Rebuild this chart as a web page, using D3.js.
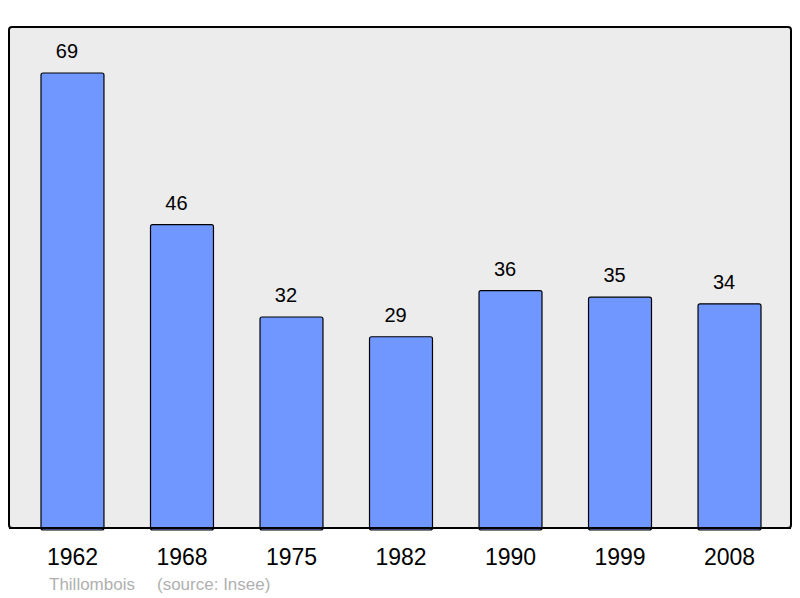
<!DOCTYPE html>
<html><head><meta charset="utf-8">
<script src="https://cdn.jsdelivr.net/npm/d3@7"></script>
<style>body{margin:0;background:#fff}svg{display:block}</style>
</head><body>
<script>
const years = ["1962","1968","1975","1982","1990","1999","2008"];
const population = [69,46,32,29,36,35,34];
const commune = "Thillombois";
const source = "(source: Insee)";

const W=800,H=598;
const svg=d3.select("body").append("svg").attr("width",W).attr("height",H);
const frame={x:9,y:27,w:782,h:501};
svg.append("rect").attr("x",frame.x).attr("y",frame.y).attr("width",frame.w).attr("height",frame.h)
  .attr("rx",3).attr("fill","#ececec").attr("stroke","#000").attr("stroke-width",2);

const x=d3.scaleBand().domain(years).range([41,761]).paddingInner(0.425).paddingOuter(0);
const y=d3.scaleLinear().domain([0,69]).range([528,73]);

svg.selectAll("rect.bar").data(population).join("rect").attr("class","bar")
  .attr("x",(d,i)=>x(years[i])).attr("y",d=>y(d)).attr("width",x.bandwidth())
  .attr("height",d=>y(0)-y(d)+2).attr("rx",2)
  .attr("fill","#7097ff").attr("stroke","#000").attr("stroke-width",1.2);
svg.append("line").attr("x1",frame.x).attr("x2",frame.x+frame.w).attr("y1",528).attr("y2",528).attr("stroke","#000").attr("stroke-width",2);

svg.selectAll("text.val").data(population).join("text").attr("class","val")
  .attr("x",(d,i)=>x(years[i])+x.bandwidth()/2-5.5).attr("y",d=>y(d)-15)
  .attr("text-anchor","middle").attr("font-family","Liberation Sans, Arial, sans-serif")
  .attr("font-size",20).attr("fill","#000").text(d=>d);

svg.selectAll("text.yr").data(years).join("text").attr("class","yr")
  .attr("x",d=>x(d)+x.bandwidth()/2).attr("y",565)
  .attr("text-anchor","middle").attr("font-family","Liberation Sans, Arial, sans-serif")
  .attr("font-size",23).attr("fill","#000").text(d=>d);

svg.append("text").attr("x",49).attr("y",590).attr("font-family","Liberation Sans, Arial, sans-serif")
  .attr("font-size",17).attr("fill","#b0b0b0").text(commune);
svg.append("text").attr("x",157).attr("y",590).attr("font-family","Liberation Sans, Arial, sans-serif")
  .attr("font-size",17).attr("fill","#b0b0b0").text(source);
</script>
</body></html>
